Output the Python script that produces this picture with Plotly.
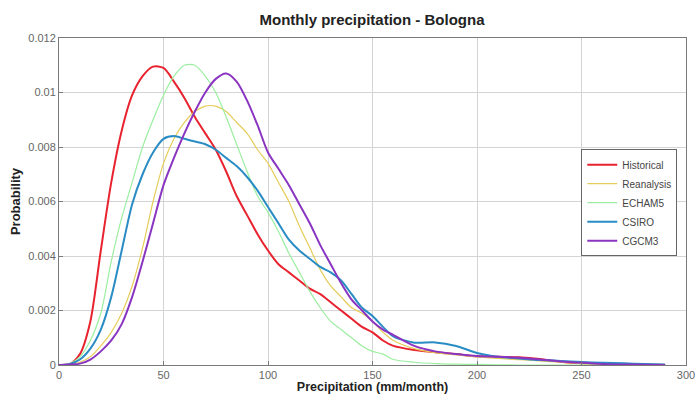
import plotly.graph_objects as go

# precipitation grid (mm/month) shared by all curves
precip = [0, 5, 10, 15, 20, 25, 30, 35, 40, 45, 50, 55, 60, 65, 70, 75, 80, 85, 90, 95,
          100, 105, 110, 115, 120, 125, 130, 135, 140, 145, 150, 155, 160, 170, 180, 190,
          200, 210, 220, 230, 240, 250, 260, 270, 280, 290]

historical = [0, 0.00003, 0.0004, 0.0016, 0.0042, 0.0067, 0.0086, 0.0099, 0.0106, 0.01095,
              0.0109, 0.0104, 0.0098, 0.0091, 0.0085, 0.0079, 0.0071, 0.0062, 0.0055, 0.0048,
              0.0042, 0.0037, 0.0034, 0.0031, 0.0028, 0.0026, 0.0023, 0.0020, 0.0017, 0.0014,
              0.0012, 0.0009, 0.0007, 0.00055, 0.00047, 0.0004, 0.00032, 0.0003, 0.00028,
              0.00022, 0.00012, 0.00006, 0.00003, 0.00002, 0.00001, 0]

reanalysis = [0, 0.00002, 0.0001, 0.0003, 0.0007, 0.0012, 0.0019, 0.0029, 0.0043, 0.0060,
              0.0074, 0.0083, 0.0089, 0.0093, 0.0095, 0.0095, 0.0093, 0.0089, 0.0085, 0.0079,
              0.0074, 0.0067, 0.0060, 0.0051, 0.0043, 0.0035, 0.0029, 0.0025, 0.0021, 0.0019,
              0.0016, 0.0012, 0.0009, 0.0006, 0.00045, 0.00037, 0.0003, 0.00024, 0.0002,
              0.00015, 0.0001, 0.00005, 0.00002, 0, 0, 0]

echam5 = [0, 0.00005, 0.0003, 0.0009, 0.0019, 0.0038, 0.0054, 0.0067, 0.0080, 0.0090,
          0.0099, 0.0106, 0.0110, 0.0110, 0.0106, 0.0100, 0.0091, 0.0081, 0.0071, 0.0062,
          0.0056, 0.0049, 0.0041, 0.0034, 0.0027, 0.0021, 0.0016, 0.0013, 0.0010, 0.0007,
          0.0005, 0.0004, 0.0002, 0.0001, 0.00005, 0.00003, 0.00002, 0.00001, 0, 0, 0, 0,
          0, 0, 0, 0]

csiro = [0, 0.00003, 0.0002, 0.0006, 0.0013, 0.0025, 0.0042, 0.0059, 0.0070, 0.0078,
         0.0083, 0.0084, 0.0083, 0.0082, 0.0081, 0.0079, 0.0076, 0.0073, 0.0069, 0.0064,
         0.0058, 0.0052, 0.0046, 0.0042, 0.0039, 0.0036, 0.0034, 0.0031, 0.0026, 0.0021,
         0.0018, 0.0014, 0.00105, 0.00082, 0.00083, 0.0007, 0.00044, 0.0003, 0.00024,
         0.00018, 0.00015, 0.00011, 0.00008, 0.00006, 0.00004, 0.00002]

cgcm3 = [0, 0.00002, 0.00005, 0.0002, 0.0005, 0.0009, 0.0015, 0.0025, 0.0038, 0.0052,
         0.0066, 0.0076, 0.0085, 0.0093, 0.0100, 0.0105, 0.0107, 0.0104, 0.0097, 0.0088,
         0.0078, 0.0072, 0.0066, 0.0059, 0.0052, 0.0044, 0.0037, 0.0030, 0.0024, 0.0020,
         0.0016, 0.0013, 0.0011, 0.0007, 0.0005, 0.0004, 0.00033, 0.0003, 0.00027,
         0.0002, 0.00013, 0.00008, 0.00004, 0.00002, 0.00001, 0]

series = [
    ("Historical", historical, "#e8232f", 2),
    ("Reanalysis", reanalysis, "#e6cd5a", 1.2),
    ("ECHAM5", echam5, "#9beea0", 1.2),
    ("CSIRO", csiro, "#2a8cc4", 2),
    ("CGCM3", cgcm3, "#8a35c2", 2),
]

FONT = "Liberation Sans, Arial"

fig = go.Figure()
for name, vals, color, width in series:
    fig.add_trace(go.Scatter(
        x=precip, y=vals, mode="lines", name=name,
        line=dict(color=color, width=width, shape="spline", smoothing=0.8),
    ))

axis_common = dict(
    showgrid=True, gridcolor="#d4d4d4", gridwidth=1,
    showline=True, linecolor="#7a7a7a", linewidth=1, mirror=True,
    ticks="inside", ticklen=4, tickcolor="#7a7a7a",
    zeroline=False, automargin=False, showspikes=False,
    tickfont=dict(family=FONT, size=11, color="#666666"),
)

fig.update_layout(
    width=698, height=394,
    paper_bgcolor="white", plot_bgcolor="white",
    margin=dict(l=59, r=12, t=38, b=29),
    hovermode=False,
    title=dict(text="<b>Monthly precipitation - Bologna</b>", x=0.533, xanchor="center",
               y=0.95, yanchor="middle",
               font=dict(family=FONT, size=15, color="#222222")),
    xaxis=dict(range=[0, 300], tickvals=[0, 50, 100, 150, 200, 250, 300],
               title=dict(text="<b>Precipitation (mm/month)</b>", standoff=0,
                          font=dict(family=FONT, size=12.5, color="#222222")),
               **axis_common),
    yaxis=dict(range=[0, 0.012], tickvals=[0, 0.002, 0.004, 0.006, 0.008, 0.01, 0.012],
               ticktext=["0", "0.002", "0.004", "0.006", "0.008", "0.01", "0.012"],
               title=dict(text="<b>Probability</b>", standoff=4,
                          font=dict(family=FONT, size=13, color="#222222")),
               **axis_common),
    legend=dict(x=0.833, y=0.66, xanchor="left", yanchor="top",
                bgcolor="white", bordercolor="#666666", borderwidth=1,
                font=dict(family=FONT, size=10, color="#444444"),
                itemwidth=30, tracegroupgap=0),
    showlegend=True,
)

# drop the browser's default body margin so the figure fills the window
fig.write_html("out.html", config={"displayModeBar": False, "staticPlot": True},
               post_script="document.body.style.margin='0';")
